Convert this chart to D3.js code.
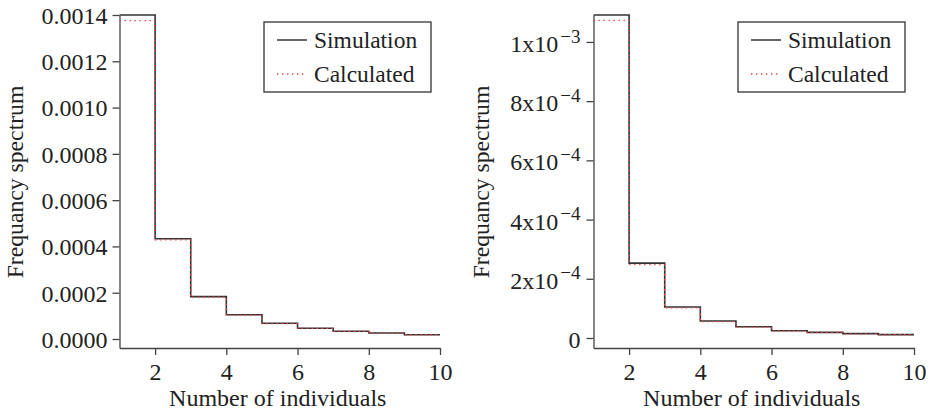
<!DOCTYPE html>
<html>
<head>
<meta charset="utf-8">
<script src="https://cdn.jsdelivr.net/npm/d3@7"></script>
<style>
  body { margin: 0; background: #fff; }
  .axis path, .axis line { stroke: #444; stroke-width: 1.3; }
</style>
</head>
<body>
<div id="chart"></div>
<script>
// number of individuals (x positions of the steps)
var individuals = [1, 2, 3, 4, 5, 6, 7, 8, 9, 10];

// left panel
var simLeft  = [0.00140, 0.000433, 0.000183, 0.000105, 0.0000678, 0.0000462, 0.0000333, 0.0000260, 0.0000186, 0.0000186];
var calcLeft = [0.001376, 0.000428, 0.000181, 0.000103, 0.0000665, 0.0000455, 0.0000328, 0.0000255, 0.0000183, 0.0000180];
var ticksLeft = [0, 0.0002, 0.0004, 0.0006, 0.0008, 0.0010, 0.0012, 0.0014];

// right panel
var simRight  = [0.001091, 0.000253, 0.0001047, 0.0000574, 0.0000382, 0.0000247, 0.0000191, 0.0000146, 0.0000113, 0.0000113];
var calcRight = [0.001073, 0.0002477, 0.0001014, 0.0000555, 0.0000370, 0.0000240, 0.0000185, 0.0000142, 0.0000110, 0.0000110];
var ticksRight = [0, 0.0002, 0.0004, 0.0006, 0.0008, 0.0010];
var ticksRightLabels = [["0", ""], ["2x10", "\u22124"], ["4x10", "\u22124"], ["6x10", "\u22124"], ["8x10", "\u22124"], ["1x10", "\u22123"]];

var xTicks = [2, 4, 6, 8, 10];
var legendItems = ["Simulation", "Calculated"];

var width = 928, height = 412;
var FONT = "'Liberation Serif', 'Times New Roman', serif";

var svg = d3.select("#chart")
  .append("svg")
  .attr("width", width)
  .attr("height", height);

function txt(sel, size) {
  return sel.style("font-family", FONT).style("font-size", size + "px").style("fill", "#222");
}

function drawPanel(opts) {
  var x = d3.scaleLinear().domain([1, 10]).range([opts.left, opts.right]);
  var y = d3.scaleLinear().domain(opts.yDomain).range([348, 15]);

  var g = svg.append("g");

  // x axis
  var xAxis = g.append("g")
    .attr("class", "axis")
    .attr("transform", "translate(0,348)")
    .call(d3.axisBottom(x).tickValues(xTicks).tickSize(7).tickSizeOuter(0).tickPadding(8).tickFormat(d3.format("d")));
  txt(xAxis.selectAll(".tick text"), 24);

  // y axis
  var yAxis = g.append("g")
    .attr("class", "axis")
    .attr("transform", "translate(" + opts.left + ",0)")
    .call(d3.axisLeft(y).tickValues(opts.ticks).tickSize(7).tickSizeOuter(0).tickPadding(opts.tickPad).tickFormat(opts.format || ""));
  txt(yAxis.selectAll(".tick text"), 24).attr("dy", "0.35em");

  if (opts.labels) {
    yAxis.selectAll(".tick text").each(function(d, i) {
      var t = d3.select(this).text(null).attr("dy", "0.4em");
      var lab = opts.labels[i];
      t.append("tspan").text(lab[0]);
      if (lab[1]) {
        t.append("tspan").attr("dx", 2).attr("dy", "-0.5em").style("font-size", "19px").text(lab[1]);
      }
    });
  }

  // step lines
  var line = d3.line()
    .x(function(d, i) { return x(individuals[i]); })
    .y(function(d) { return y(d); })
    .curve(d3.curveStepAfter);

  g.append("path")
    .datum(opts.sim)
    .attr("fill", "none")
    .attr("stroke", "#333")
    .attr("stroke-width", 1.6)
    .attr("d", line);

  g.append("path")
    .datum(opts.calc)
    .attr("fill", "none")
    .attr("stroke", "#ff4040")
    .attr("stroke-width", 1.3)
    .attr("stroke-dasharray", "1.4,3.6")
    .attr("d", line);

  // axis titles
  txt(g.append("text"), 24)
    .attr("x", (opts.left + opts.right) / 2 - 2)
    .attr("y", 406)
    .attr("text-anchor", "middle")
    .text("Number of individuals");

  txt(g.append("text"), 23.7)
    .attr("transform", "translate(" + opts.titleX + ",182) rotate(-90)")
    .attr("text-anchor", "middle")
    .text("Frequancy spectrum");

  // legend
  var lg = g.append("g").attr("transform", "translate(" + opts.legendX + ",22)");
  lg.append("rect")
    .attr("width", 167)
    .attr("height", 70)
    .attr("fill", "#fff")
    .attr("stroke", "#333")
    .attr("stroke-width", 1.3);

  legendItems.forEach(function(name, i) {
    var yy = 18 + i * 34;
    lg.append("line")
      .attr("x1", 13).attr("x2", 43)
      .attr("y1", yy).attr("y2", yy)
      .attr("stroke", i === 0 ? "#333" : "#ff4040")
      .attr("stroke-width", i === 0 ? 1.5 : 1.3)
      .attr("stroke-dasharray", i === 0 ? null : "1.4,3.6");
    txt(lg.append("text"), 23.5)
      .attr("x", 50)
      .attr("y", yy + 8)
      .text(name);
  });
}

drawPanel({
  left: 119.5, right: 440,
  yDomain: [-0.0000389, 0.0014],
  ticks: ticksLeft,
  format: d3.format(".4f"),
  tickPad: 5,
  sim: simLeft, calc: calcLeft,
  titleX: 23, legendX: 264
});

drawPanel({
  left: 593.5, right: 914,
  yDomain: [-0.0000338, 0.001091],
  ticks: ticksRight,
  labels: ticksRightLabels,
  tickPad: 6,
  sim: simRight, calc: calcRight,
  titleX: 489, legendX: 738
});
</script>
</body>
</html>
